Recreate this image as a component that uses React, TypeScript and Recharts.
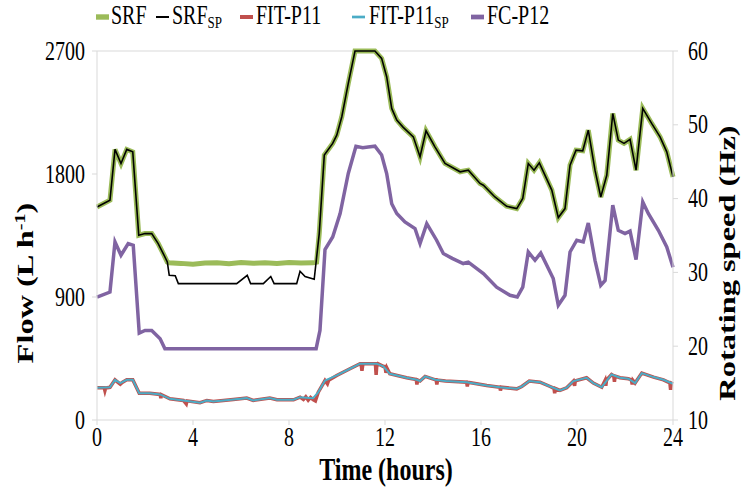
import { ComposedChart, Line, XAxis, YAxis, ReferenceLine, Label } from 'recharts'

const SERIF = '"Liberation Serif", "Times New Roman", serif'
// the source picture is stretched vertically, so text is drawn taller than wide
const STRETCH = 1.35

const hourTicks = [0, 4, 8, 12, 16, 20, 24]
const flowTicks = [0, 900, 1800, 2700]
const speedTicks = [10, 20, 30, 40, 50, 60]

// [time (h), flow (L/h)]
const srfSp: [number, number][] = [
  [0, 1559], [0.54, 1608], [0.75, 1980], [1.0, 1877], [1.24, 1980], [1.49, 1962],
  [1.74, 1352], [2.0, 1364], [2.28, 1364], [2.55, 1291], [2.76, 1218], [2.93, 1156],
  [3.01, 1059], [3.26, 1055], [3.39, 998], [5.82, 998], [6.26, 1059], [6.4, 998],
  [6.93, 998], [7.24, 1050], [7.38, 998], [8.32, 998], [8.46, 1088], [8.67, 1050],
  [9.05, 1030], [9.26, 1364], [9.47, 1938], [9.82, 2024], [9.99, 2084], [10.2, 2219],
  [10.47, 2463], [10.75, 2700], [11.58, 2700], [11.86, 2646], [12.07, 2512], [12.28, 2280],
  [12.49, 2195], [12.76, 2141], [13.18, 2072], [13.46, 1926], [13.71, 2116], [14.08, 1999],
  [14.5, 1877], [15.13, 1816], [15.47, 1828], [15.96, 1731], [16.1, 1718], [16.58, 1632],
  [17.07, 1564], [17.49, 1547], [17.74, 1621], [17.97, 1877], [18.21, 1828], [18.43, 1882],
  [18.95, 1682], [19.22, 1481], [19.5, 1547], [19.71, 1865], [19.96, 1975], [20.24, 1970],
  [20.47, 2121], [20.75, 1828], [20.99, 1632], [21.24, 1791], [21.49, 2243], [21.72, 2048],
  [21.96, 2024], [22.21, 2053], [22.46, 1828], [22.74, 2280], [23.11, 2170], [23.46, 2072],
  [23.74, 1962], [24, 1779],
]

const srf: [number, number][] = [
  [0, 1559], [0.54, 1608], [0.75, 1980], [1.0, 1877], [1.24, 1980], [1.49, 1962],
  [1.74, 1352], [2.0, 1364], [2.28, 1364], [2.55, 1291], [2.76, 1218], [2.93, 1156],
  [3.0, 1150], [3.5, 1146], [4.0, 1140], [4.5, 1148], [5.0, 1150], [5.5, 1144],
  [6.0, 1152], [6.5, 1147], [7.0, 1150], [7.5, 1146], [8.0, 1152], [8.5, 1148],
  [9.0, 1150], [9.15, 1155], [9.26, 1364], [9.47, 1938], [9.82, 2024], [9.99, 2084],
  [10.2, 2219], [10.47, 2463], [10.75, 2700], [11.58, 2700], [11.86, 2646], [12.07, 2512],
  [12.28, 2280], [12.49, 2195], [12.76, 2141], [13.18, 2072], [13.46, 1926], [13.71, 2116],
  [14.08, 1999], [14.5, 1877], [15.13, 1816], [15.47, 1828], [15.96, 1731], [16.1, 1718],
  [16.58, 1632], [17.07, 1564], [17.49, 1547], [17.74, 1621], [17.97, 1877], [18.21, 1828],
  [18.43, 1882], [18.95, 1682], [19.22, 1481], [19.5, 1547], [19.71, 1865], [19.96, 1975],
  [20.24, 1970], [20.47, 2121], [20.75, 1828], [20.99, 1632], [21.24, 1791], [21.49, 2243],
  [21.72, 2048], [21.96, 2024], [22.21, 2053], [22.46, 1828], [22.74, 2280], [23.11, 2170],
  [23.46, 2072], [23.74, 1962], [24, 1779],
]

const fitSp: [number, number][] = [
  [0, 236], [0.54, 239], [0.75, 294], [0.97, 270], [1.24, 294], [1.49, 294], [1.76, 196],
  [2.2, 196], [2.63, 187], [3.04, 155], [3.6, 143], [4.29, 126], [4.58, 143], [4.85, 136],
  [5.68, 150], [6.24, 160], [6.51, 143], [7.2, 160], [7.5, 148], [8.19, 148], [8.46, 167],
  [9.0, 160], [9.22, 204], [9.5, 289], [9.99, 326], [10.54, 375], [10.96, 412], [11.65, 412],
  [11.93, 392], [12.2, 338], [12.9, 309], [13.32, 294], [13.46, 285], [13.67, 319], [14.1, 294],
  [14.52, 285], [15.4, 277], [16.24, 253], [16.79, 240], [17.49, 228], [17.7, 245], [18.01, 285],
  [18.46, 277], [18.88, 245], [19.29, 216], [19.57, 236], [19.85, 285], [20.4, 309], [20.68, 270],
  [21.03, 240], [21.44, 333], [21.79, 309], [22.14, 302], [22.42, 270], [22.7, 343], [23.19, 314],
  [23.6, 294], [24, 265],
]

const fit: [number, number][] = [
  [0, 236], [0.3, 236], [0.33, 215], [0.36, 234], [0.54, 239], [0.75, 294], [0.9, 272],
  [0.97, 262], [1.05, 275], [1.24, 294], [1.49, 294], [1.76, 196], [2.2, 196], [2.63, 187],
  [2.66, 160], [2.69, 185], [3.04, 155], [3.6, 143], [3.72, 118], [3.75, 140], [4.29, 126],
  [4.58, 143], [4.85, 136], [5.68, 150], [6.24, 160], [6.51, 143], [7.2, 160], [7.5, 148],
  [8.19, 148], [8.46, 167], [8.6, 150], [8.7, 170], [8.8, 145], [8.9, 165], [9.0, 150],
  [9.1, 140], [9.22, 204], [9.5, 289], [9.6, 265], [9.65, 290], [9.99, 326], [10.54, 375],
  [10.96, 412], [11.0, 412], [11.04, 360], [11.08, 412], [11.6, 412], [11.63, 330], [11.66, 405],
  [11.7, 412], [11.93, 392], [12.0, 392], [12.04, 345], [12.08, 380], [12.2, 338], [12.9, 309],
  [13.3, 296], [13.33, 260], [13.36, 293], [13.46, 285], [13.67, 319], [14.1, 294], [14.13, 294],
  [14.16, 260], [14.19, 292], [14.52, 285], [15.4, 277], [15.43, 245], [15.46, 276], [16.24, 253],
  [16.79, 240], [16.81, 215], [16.84, 240], [17.49, 228], [17.7, 245], [18.01, 285], [18.46, 277],
  [18.88, 245], [19.04, 232], [19.07, 195], [19.1, 230], [19.29, 216], [19.57, 236], [19.85, 285],
  [19.9, 250], [19.93, 287], [20.4, 309], [20.68, 270], [21.03, 240], [21.17, 290], [21.2, 250],
  [21.23, 292], [21.44, 333], [21.53, 323], [21.56, 280], [21.59, 321], [21.79, 309], [22.14, 302],
  [22.27, 292], [22.3, 260], [22.33, 290], [22.42, 270], [22.7, 343], [23.19, 314], [23.6, 294],
  [23.87, 272], [23.9, 220], [23.93, 270], [24, 265],
]

// [time (h), rotating speed (Hz)]
const fcP12: [number, number][] = [
  [0, 26.66], [0.54, 27.34], [0.75, 34.13], [1.0, 32.32], [1.3, 33.91], [1.51, 33.68],
  [1.76, 21.78], [2.0, 22.14], [2.28, 22.14], [2.63, 21.02], [2.83, 19.66], [9.13, 19.66],
  [9.29, 22.14], [9.5, 33.09], [9.82, 34.8], [10.13, 37.98], [10.47, 43.4], [10.79, 47.1],
  [11.07, 46.9], [11.3, 47.0], [11.58, 47.1], [11.86, 45.9], [12.07, 43.4], [12.28, 39.3],
  [12.49, 37.98], [12.83, 36.84], [13.25, 35.94], [13.46, 33.9], [13.74, 36.6], [14.15, 34.36],
  [14.43, 32.55], [14.8, 31.9], [15.26, 31.2], [15.47, 31.4], [16.1, 29.84], [16.65, 28.0],
  [17.21, 26.9], [17.51, 26.66], [17.74, 28.0], [17.97, 32.77], [18.25, 31.64], [18.49, 32.63],
  [19.01, 29.16], [19.22, 25.54], [19.5, 26.9], [19.71, 32.77], [19.99, 34.36], [20.26, 34.13],
  [20.47, 36.7], [20.75, 31.64], [20.99, 28.25], [21.17, 28.9], [21.49, 39.1], [21.72, 35.7],
  [22.0, 35.27], [22.21, 35.6], [22.46, 31.74], [22.74, 39.55], [22.97, 37.98], [23.39, 35.7],
  [23.74, 33.45], [24, 30.7],
]

const rows = (pts: [number, number][]) => pts.map(([t, v]) => ({ t, v }))

const AXIS = '#d9d9d9'

function StretchText({ x, y, anchor, size = 20, bold = false, children }: any) {
  return (
    <text
      transform={`translate(${x} ${y}) scale(1 ${STRETCH})`}
      textAnchor={anchor}
      fontFamily={SERIF}
      fontSize={size}
      fontWeight={bold ? 'bold' : 'normal'}
      fill="#000"
    >
      {children}
    </text>
  )
}

function VerticalTitle({ x, y, children }: any) {
  return (
    <text
      transform={`translate(${x} ${y}) rotate(-90) scale(${STRETCH} 1)`}
      textAnchor="middle"
      fontFamily={SERIF}
      fontSize={24}
      fontWeight="bold"
      fill="#000"
    >
      {children}
    </text>
  )
}

const HourTick = ({ x, payload }: any) => (
  <StretchText x={x} y={446} anchor="middle">{payload.value}</StretchText>
)
const FlowTick = ({ y, payload }: any) => (
  <StretchText x={85} y={y + 8.5} anchor="end">{payload.value}</StretchText>
)
const SpeedTick = ({ y, payload }: any) => (
  <StretchText x={688} y={y + 8.5} anchor="start">{payload.value}</StretchText>
)

const legendItems = [
  { name: 'SRF', sub: '', color: '#9bbb59', w: 4, dash: 96, text: 111 },
  { name: 'SRF', sub: 'SP', color: '#000', w: 1.5, dash: 156, text: 172 },
  { name: 'FIT-P11', sub: '', color: '#c0504d', w: 3, dash: 240, text: 256 },
  { name: 'FIT-P11', sub: 'SP', color: '#4bacc6', w: 2, dash: 352, text: 369 },
  { name: 'FC-P12', sub: '', color: '#8064a2', w: 3.5, dash: 471, text: 487 },
]

function TopLegend() {
  return (
    <svg width={743} height={40} style={{ position: 'absolute', left: 0, top: 0 }}>
      {legendItems.map((it, i) => (
        <g key={i}>
          <line x1={it.dash} x2={it.dash + 13} y1={17} y2={17} stroke={it.color} strokeWidth={it.w * STRETCH} />
          <StretchText x={it.text} y={24} anchor="start">
            {it.name}
            {it.sub && (
              <tspan fontSize={13} dy={3}>
                {it.sub}
              </tspan>
            )}
          </StretchText>
        </g>
      ))}
    </svg>
  )
}

export default function App() {
  return (
    <div style={{ position: 'absolute', left: 0, top: 0, width: 743, height: 489, background: '#fff' }}>
      <ComposedChart width={743} height={489} margin={{ top: 51, right: 0, bottom: 0, left: 0 }}>
        <XAxis
          type="number"
          dataKey="t"
          domain={[0, 24]}
          ticks={hourTicks}
          height={69}
          stroke={AXIS}
          tickSize={5}
          tick={<HourTick />}
        >
          <Label
            content={() => (
              <StretchText x={386} y={480} anchor="middle" size={24} bold>
                Time (hours)
              </StretchText>
            )}
          />
        </XAxis>
        <YAxis
          yAxisId="flow"
          domain={[0, 2700]}
          ticks={flowTicks}
          width={97}
          stroke={AXIS}
          tickSize={5}
          tick={<FlowTick />}
        >
          <Label
            content={() => (
              <VerticalTitle x={33} y={283}>
                Flow (L h<tspan dy={-8} fontSize={15}>-1</tspan>
                <tspan dy={8}>)</tspan>
              </VerticalTitle>
            )}
          />
        </YAxis>
        <YAxis
          yAxisId="speed"
          orientation="right"
          domain={[10, 60]}
          ticks={speedTicks}
          width={70}
          stroke={AXIS}
          tickSize={5}
          tick={<SpeedTick />}
        >
          <Label
            content={() => (
              <VerticalTitle x={735} y={263}>
                Rotating speed (Hz)
              </VerticalTitle>
            )}
          />
        </YAxis>
        <ReferenceLine yAxisId="flow" y={2700} stroke={AXIS} />
        <Line yAxisId="flow" data={rows(srf)} dataKey="v" type="linear" stroke="#9bbb59" strokeWidth={5} dot={false} isAnimationActive={false} />
        <Line yAxisId="flow" data={rows(srfSp)} dataKey="v" type="linear" stroke="#000" strokeWidth={1.6} dot={false} isAnimationActive={false} />
        <Line yAxisId="flow" data={rows(fit)} dataKey="v" type="linear" stroke="#c0504d" strokeWidth={3.5} dot={false} isAnimationActive={false} />
        <Line yAxisId="flow" data={rows(fitSp)} dataKey="v" type="linear" stroke="#4bacc6" strokeWidth={2} dot={false} isAnimationActive={false} />
        <Line yAxisId="speed" data={rows(fcP12)} dataKey="v" type="linear" stroke="#8064a2" strokeWidth={3.5} dot={false} isAnimationActive={false} />
      </ComposedChart>
      <TopLegend />
    </div>
  )
}
